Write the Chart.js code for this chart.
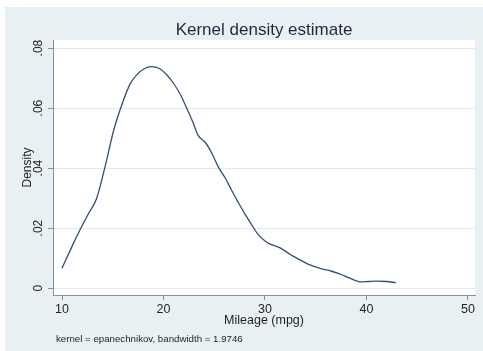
<!DOCTYPE html>
<html>
<head>
<meta charset="utf-8">
<script src="https://cdn.jsdelivr.net/npm/chart.js@4"></script>
<style>
  html, body { margin: 0; padding: 0; background: #fff; }
  canvas { display: block; }
</style>
</head>
<body>
<canvas id="chart" width="483" height="351"></canvas>
<script>
// kernel density of mpg
const mpgX = [10, 11, 11.8, 12.6, 13.4, 14.2, 15.1, 16.0, 16.7, 17.4, 18.1, 18.8, 19.6, 20.3,
  21.0, 21.7, 22.3, 22.9, 23.4, 24.2, 24.8, 25.4, 26.1, 26.7, 27.3, 27.9, 28.6, 29.3, 30.2,
  31.5, 32.5, 33.4, 34.3, 35.6, 36.5, 37.3, 38.3, 39.4, 40.2, 41.0, 42.0, 42.9];
const densityY = [0.0066, 0.0140, 0.0196, 0.0248, 0.0298, 0.0399, 0.0527, 0.0621, 0.0680, 0.0712,
  0.0731, 0.0738, 0.0732, 0.0712, 0.0682, 0.0643, 0.0599, 0.0553, 0.0510, 0.0482, 0.0447, 0.0404,
  0.0366, 0.0327, 0.0290, 0.0254, 0.0216, 0.0180, 0.0152, 0.0134, 0.0112, 0.0095, 0.0079, 0.0064,
  0.0057, 0.0048, 0.0034, 0.0021, 0.0022, 0.0023, 0.0022, 0.0018];
const xTicks = [10, 20, 30, 40, 50];
const yTicks = [0, 0.02, 0.04, 0.06, 0.08];

const chartTitle = "Kernel density estimate";
const xTitle = "Mileage (mpg)";
const yTitle = "Density";
const note = "kernel = epanechnikov, bandwidth = 1.9746";

const bgColor = "#e9f0f3";
const gridColor = "#e0e9ee";
const axisColor = "#8a8f94";
const textColor = "#1f1f1f";

const stataLook = {
  id: "stataLook",
  beforeDraw(chart) {
    const ctx = chart.ctx;
    const a = chart.chartArea;
    ctx.save();
    ctx.fillStyle = "#ffffff";
    ctx.fillRect(0, 0, chart.width, chart.height);
    ctx.fillStyle = bgColor;
    ctx.fillRect(5, 7, chart.width - 5, chart.height - 7);
    ctx.fillStyle = "#ffffff";
    ctx.fillRect(a.left, a.top, a.right - a.left, a.bottom - a.top);
    ctx.restore();
  },
  afterDraw(chart) {
    const ctx = chart.ctx;
    const a = chart.chartArea;
    ctx.save();
    ctx.fillStyle = "#1e2a3a";
    ctx.font = "17px 'Liberation Sans', Arial, sans-serif";
    ctx.textAlign = "center";
    ctx.textBaseline = "alphabetic";
    ctx.fillText(chartTitle, (a.left + a.right) / 2, 35);
    ctx.fillStyle = textColor;
    ctx.font = "9.7px 'Liberation Sans', Arial, sans-serif";
    ctx.textAlign = "left";
    ctx.fillText(note, 56, 342);
    ctx.restore();
  }
};

const points = mpgX.map((x, i) => ({ x: x, y: densityY[i] }));

new Chart(document.getElementById("chart").getContext("2d"), {
  type: "line",
  data: {
    datasets: [{
      data: points,
      borderColor: "#30507a",
      borderWidth: 1.3,
      pointRadius: 0,
      fill: false,
      cubicInterpolationMode: "monotone"
    }]
  },
  options: {
    responsive: false,
    animation: false,
    events: [],
    layout: { padding: { top: 40, left: 0, right: 8, bottom: 0 } },
    plugins: { legend: { display: false }, title: { display: false }, tooltip: { enabled: false } },
    scales: {
      x: {
        type: "linear",
        min: 9.11,
        max: 50.7,
        afterFit: (s) => { s.height = 56; },
        afterBuildTicks: (s) => { s.ticks = xTicks.map(v => ({ value: v })); },
        grid: { drawOnChartArea: false, drawTicks: true, tickLength: 5, tickColor: axisColor },
        border: { display: true, color: axisColor, width: 1 },
        ticks: {
          color: textColor,
          font: { family: "'Liberation Sans', Arial, sans-serif", size: 12.5 },
          padding: 2,
          maxRotation: 0,
          autoSkip: false
        },
        title: {
          display: true,
          text: xTitle,
          color: textColor,
          font: { family: "'Liberation Sans', Arial, sans-serif", size: 12.5 },
          padding: { top: 0, bottom: 22.5 }
        }
      },
      y: {
        min: -0.0023,
        max: 0.0827,
        afterFit: (s) => { s.width = 53; },
        afterBuildTicks: (s) => { s.ticks = yTicks.map(v => ({ value: v })); },
        grid: { color: gridColor, lineWidth: 1, drawTicks: true, tickLength: 5, tickColor: axisColor },
        border: { display: true, color: axisColor, width: 1 },
        ticks: {
          color: textColor,
          font: { family: "'Liberation Sans', Arial, sans-serif", size: 12 },
          padding: 1,
          minRotation: 90,
          maxRotation: 90,
          crossAlign: "center",
          autoSkip: false,
          callback: (v) => v === 0 ? "0" : v.toFixed(2).replace(/^0/, "")
        },
        title: {
          display: true,
          text: yTitle,
          color: textColor,
          font: { family: "'Liberation Sans', Arial, sans-serif", size: 12 },
          padding: { top: 20, bottom: 0 }
        }
      }
    }
  },
  plugins: [stataLook]
});
</script>
</body>
</html>
